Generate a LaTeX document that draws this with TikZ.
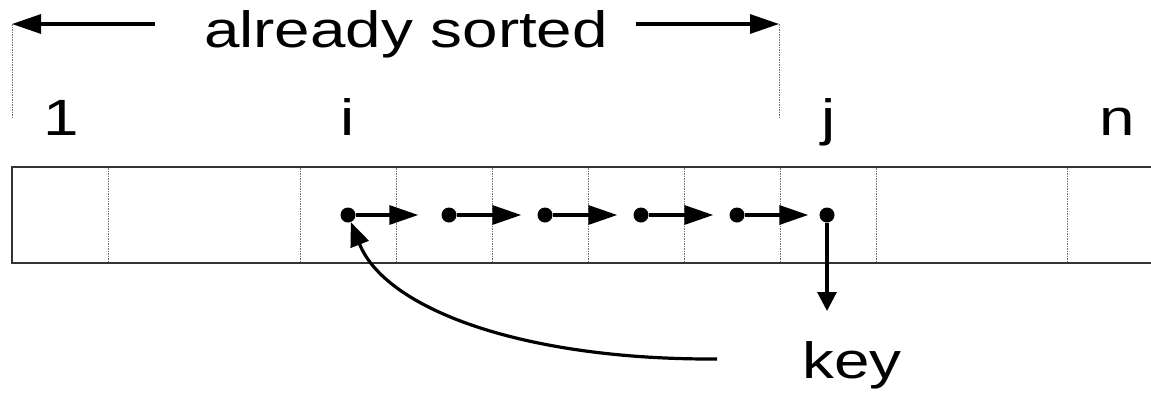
\documentclass[tikz,border=0pt]{standalone}
\usepackage{fontspec}
\setmainfont{Liberation Sans}
\usetikzlibrary{arrows.meta}
\newcommand{\wtxt}[1]{\scalebox{1.25}[1]{#1}}
\begin{document}
\begin{tikzpicture}[x=1pt,y=-1pt,
  lbl/.style={inner sep=0pt,anchor=base,font=\fontsize{51}{60}\selectfont},
  dotnode/.style={circle,fill=black,inner sep=0pt,minimum size=15pt},
  divider/.style={black!55,line width=1pt,dash pattern=on 1.5pt off 1pt},
  border/.style={black!80,line width=1.6pt},
  flow/.style={line width=3.2pt,-{Triangle[length=29pt,width=19pt]}},
  down/.style={line width=3.2pt,-{Triangle[length=19pt,width=19pt]}},
  back/.style={line width=3.2pt,-{Triangle[length=24pt,width=19pt]}},
  span/.style={line width=3.2pt,-{Triangle[length=29pt,width=19pt]}}]
\useasboundingbox (0,0) rectangle (1151,402);
% array
\draw[border] (1151,167) -- (12,167) -- (12,263) -- (1151,263);
\foreach \x in {108,300,396,492,588,684,780,876,1067}
  \draw[divider] (\x,168) -- (\x,262);
% labels
\node[lbl] (sorted) at (406,47) {\wtxt{already sorted}};
\node[lbl] (one) at (61,135) {\wtxt{1}};
\node[lbl] (ilbl) at (348,135) {\wtxt{i}};
\node[lbl] (jlbl) at (829,135) {\wtxt{j}};
\node[lbl] (nlbl) at (1117,135) {\wtxt{n}};
\node[lbl] (key) at (852,378) {\wtxt{key}};
% bracket of the sorted part
\draw[divider] (12,24) -- (12,118);
\draw[divider] (779,24) -- (779,118);
\coordinate (lstart) at (155,24);
\coordinate (lend) at (12,24);
\coordinate (rstart) at (636,24);
\coordinate (rend) at (779,24);
\draw[span] (lstart) -- (lend);
\draw[span] (rstart) -- (rend);
% dots
\node[dotnode] (d1) at (348,215) {};
\node[dotnode] (d2) at (449,215) {};
\node[dotnode] (d3) at (545,215) {};
\node[dotnode] (d4) at (641,215) {};
\node[dotnode] (d5) at (737,215) {};
\node[dotnode] (d6) at (827,215) {};
\draw[flow,shorten >=23pt] (d1) -- (d2);
\draw[flow,shorten >=16pt] (d2) -- (d3);
\draw[flow,shorten >=16pt] (d3) -- (d4);
\draw[flow,shorten >=16pt] (d4) -- (d5);
\draw[flow,shorten >=11pt] (d5) -- (d6);
\coordinate (jdown) at (827,311);
\draw[down] (d6) -- (jdown);
\coordinate (kstart) at (717,359);
\draw[back] (kstart) .. controls (520,360) and (385,308) .. (d1);
\end{tikzpicture}
\end{document}
